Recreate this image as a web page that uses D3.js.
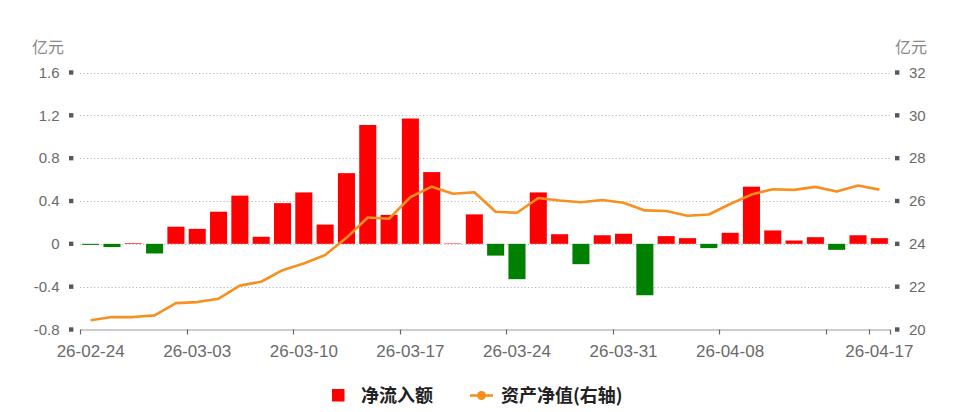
<!DOCTYPE html>
<html>
<head>
<meta charset="utf-8">
<script src="https://cdn.jsdelivr.net/npm/d3@7/dist/d3.min.js"></script>
<style>
html,body{margin:0;padding:0;background:#fff;}
svg{display:block;}
</style>
</head>
<body>
<svg id="chart" width="960" height="412"></svg>
<script>
const dates = ["26-02-24","26-02-25","26-02-26","26-02-27","26-03-02","26-03-03","26-03-04","26-03-05","26-03-06","26-03-09",
"26-03-10","26-03-11","26-03-12","26-03-13","26-03-16","26-03-17","26-03-18","26-03-19","26-03-20","26-03-23",
"26-03-24","26-03-25","26-03-26","26-03-27","26-03-30","26-03-31","26-04-01","26-04-02","26-04-03","26-04-07",
"26-04-08","26-04-09","26-04-10","26-04-13","26-04-14","26-04-15","26-04-16","26-04-17"];
const netInflow = [-0.01,-0.03,0.006,-0.09,0.16,0.14,0.30,0.45,0.066,0.38,
0.48,0.18,0.66,1.11,0.27,1.17,0.67,0.004,0.275,-0.11,
-0.33,0.48,0.09,-0.19,0.08,0.094,-0.48,0.072,0.053,-0.04,
0.103,0.534,0.125,0.031,0.062,-0.056,0.08,0.053];
const netAsset = [20.43,20.58,20.58,20.66,21.23,21.28,21.44,22.05,22.23,22.77,
23.08,23.48,24.28,25.23,25.17,26.18,26.67,26.34,26.41,25.5,
25.45,26.14,26.02,25.94,26.05,25.92,25.56,25.53,25.31,25.37,
25.86,26.3,26.55,26.52,26.66,26.44,26.72,26.53];
const leftTicks = [-0.8,-0.4,0,0.4,0.8,1.2,1.6];
const rightTicks = [20,22,24,26,28,30,32];
const labelIdx = [0,5,10,15,20,25,30,37];
const tickIdx = [0,5,10,15,20,25,30,35,37];
const unitLabel = "亿元";
const seriesNames = ["净流入额","资产净值(右轴)"];

const svg = d3.select("#chart");
const L = 80, R = 890, T = 72.5, B = 329.5;
const x = d3.scaleBand().domain(dates).range([L, R]).padding(0);
const yL = d3.scaleLinear().domain([-0.8, 1.6]).range([B, T]);
const yR = d3.scaleLinear().domain([20, 32]).range([B, T]);
const bw = x.bandwidth();
const font = "'Liberation Sans', Arial, 'Noto Sans CJK SC', sans-serif";
const cjk = "'Noto Sans CJK SC', 'Liberation Sans', sans-serif";

// grid lines
svg.append("g").selectAll("line").data(leftTicks.filter(t => t !== -0.8)).join("line")
  .attr("x1", L).attr("x2", R)
  .attr("y1", d => Math.round(yL(d)) + 0.5).attr("y2", d => Math.round(yL(d)) + 0.5)
  .attr("stroke", "#b8b8b8").attr("stroke-width", 1).attr("stroke-dasharray", "1.2,2.3");

// left axis labels and markers
const gl = svg.append("g");
gl.selectAll("rect").data(leftTicks).join("rect")
  .attr("x", 69).attr("y", d => yL(d) - 2.2).attr("width", 4.4).attr("height", 4.4).attr("fill", "#555a60");
gl.selectAll("text").data(leftTicks).join("text")
  .attr("x", 59.5).attr("y", d => yL(d) + 5.2).attr("text-anchor", "end")
  .attr("font-family", font).attr("font-size", 15).attr("fill", "#6a6a6a")
  .text(d => d3.format("")(d).replace("−","-"));

// right axis
const gr = svg.append("g");
gr.selectAll("rect").data(rightTicks).join("rect")
  .attr("x", 895).attr("y", d => yR(d) - 2.2).attr("width", 4.4).attr("height", 4.4).attr("fill", "#555a60");
gr.selectAll("text").data(rightTicks).join("text")
  .attr("x", 909).attr("y", d => yR(d) + 5.2).attr("text-anchor", "start")
  .attr("font-family", font).attr("font-size", 15).attr("fill", "#6a6a6a")
  .text(d => d);

// unit labels
svg.append("text").attr("x", 32).attr("y", 53).attr("font-family", cjk).attr("font-size", 16)
  .attr("fill", "#888").text(unitLabel);
svg.append("text").attr("x", 895).attr("y", 53).attr("font-family", cjk).attr("font-size", 16)
  .attr("fill", "#888").text(unitLabel);

// bars
svg.append("g").selectAll("rect").data(netInflow).join("rect")
  .attr("x", (d, i) => x(dates[i]) + bw * 0.1)
  .attr("width", bw * 0.8)
  .attr("y", d => d >= 0 ? yL(d) : yL(0))
  .attr("height", d => Math.abs(yL(d) - yL(0)))
  .attr("fill", d => d >= 0 ? "#ff0000" : "#008000");

// x axis
const gx = svg.append("g");
gx.append("line").attr("x1", L).attr("x2", R).attr("y1", B + 0.5).attr("y2", B + 0.5)
  .attr("stroke", "#9a9a9a").attr("stroke-width", 1);
gx.selectAll("line.t").data(tickIdx.concat([38])).join("line").attr("class", "t")
  .attr("x1", i => Math.round(i < 38 ? x(dates[i]) : R) + 0.5)
  .attr("x2", i => Math.round(i < 38 ? x(dates[i]) : R) + 0.5)
  .attr("y1", B).attr("y2", B + 5).attr("stroke", "#666").attr("stroke-width", 1.2);
gx.selectAll("text").data(labelIdx).join("text")
  .attr("x", i => x(dates[i]) + bw / 2).attr("y", 357).attr("text-anchor", "middle")
  .attr("font-family", font).attr("font-size", 17).attr("fill", "#6a6a6a")
  .text(i => dates[i]);

// line
const line = d3.line().x((d, i) => x(dates[i]) + bw / 2).y(d => yR(d));
svg.append("path").datum(netAsset).attr("d", line)
  .attr("fill", "none").attr("stroke", "#f7901e").attr("stroke-width", 2.6)
  .attr("stroke-linejoin", "round");

// legend
const lg = svg.append("g");
lg.append("rect").attr("x", 332).attr("y", 389).attr("width", 12.5).attr("height", 12.5).attr("fill", "#ff0000");
lg.append("text").attr("x", 361).attr("y", 402).attr("font-family", cjk).attr("font-size", 18)
  .attr("font-weight", "bold").attr("fill", "#222").text(seriesNames[0]);
lg.append("line").attr("x1", 470).attr("x2", 493).attr("y1", 395.5).attr("y2", 395.5)
  .attr("stroke", "#f7901e").attr("stroke-width", 2.6);
lg.append("circle").attr("cx", 481.5).attr("cy", 395.5).attr("r", 4.5).attr("fill", "#f7901e");
lg.append("text").attr("x", 501).attr("y", 402).attr("font-family", cjk).attr("font-size", 18)
  .attr("font-weight", "bold").attr("fill", "#222").text(seriesNames[1]);
</script>
</body>
</html>
